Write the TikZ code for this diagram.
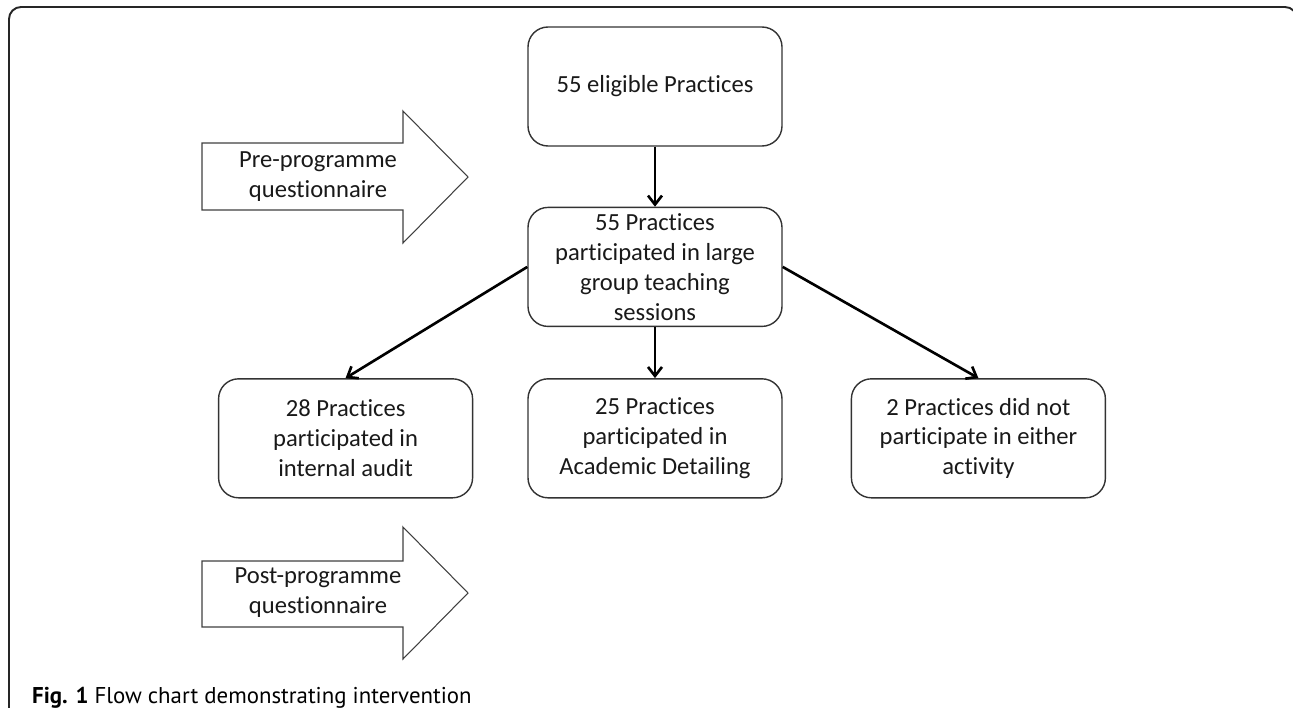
\documentclass[tikz,border=0pt]{standalone}
\usepackage{fontspec}
\setmainfont{Carlito}[RawFeature={-liga;-clig;-calt}]
\newfontfamily\capfont{PT Sans}
\usetikzlibrary{positioning, arrows.meta}

\begin{document}
\begin{tikzpicture}[x=0.2mm, y=-0.2mm,
        box/.style = {draw, black!80, text=black!90, rounded corners=4mm, minimum width=50.8mm, minimum height=23.8mm, align=center, line width=0.8pt, font=\fontsize{14}{17}\selectfont},
        arrow/.style = {-{Straight Barb[length=1.8mm, width=2.8mm]}, line width=1.5pt},
        blockarrow/.style = {draw, black!75, line width=0.6pt, fill=white},
        arrowtext/.style = {align=center, text=black!90, font=\fontsize{14}{17}\selectfont}
    ]
        \useasboundingbox (0,0) rectangle (1293,708);
        % outer frame
        \draw[line width=1.1pt, black!85, rounded corners=2.4mm] (9,720) -- (9,7) -- (1297,7) -- (1297,40);

        % block arrows
        \draw[blockarrow] (202,143) -- (403,143) -- (403,111) -- (468,177) -- (403,243) -- (403,210) -- (202,210) -- cycle;
        \node[arrowtext] (pre) at (318,177) {Pre-programme\\questionnaire};
        \draw[blockarrow] (202,561) -- (403,561) -- (403,527) -- (468,593) -- (403,659) -- (403,627) -- (202,627) -- cycle;
        \node[arrowtext] (post) at (318,593) {Post-programme\\questionnaire};

        % flow boxes
        \node[box] (eligible) at (655,86.5) {55 eligible Practices};
        \node[box, below=12mm of eligible] (teaching) {55 Practices\\participated in large\\group teaching\\sessions};
        \node[box, below=10.2mm of teaching] (detailing) {25 Practices\\participated in\\Academic Detailing};
        \node[box, left=10.8mm of detailing] (audit) {28 Practices\\participated in\\internal audit};
        \node[box, right=13.6mm of detailing] (none) {2 Practices did not\\participate in either\\activity};

        \draw[arrow] (eligible) -- (teaching);
        \draw[arrow] (teaching) -- (detailing);
        \draw[arrow] (teaching.west) -- (audit.north);
        \draw[arrow] (teaching.east) -- (none.north);

        \node[anchor=base west, font=\capfont\fontsize{13}{15}\selectfont] (caption) at (26,703) {\textbf{Fig. 1} Flow chart demonstrating intervention};
    \end{tikzpicture}
\end{document}
